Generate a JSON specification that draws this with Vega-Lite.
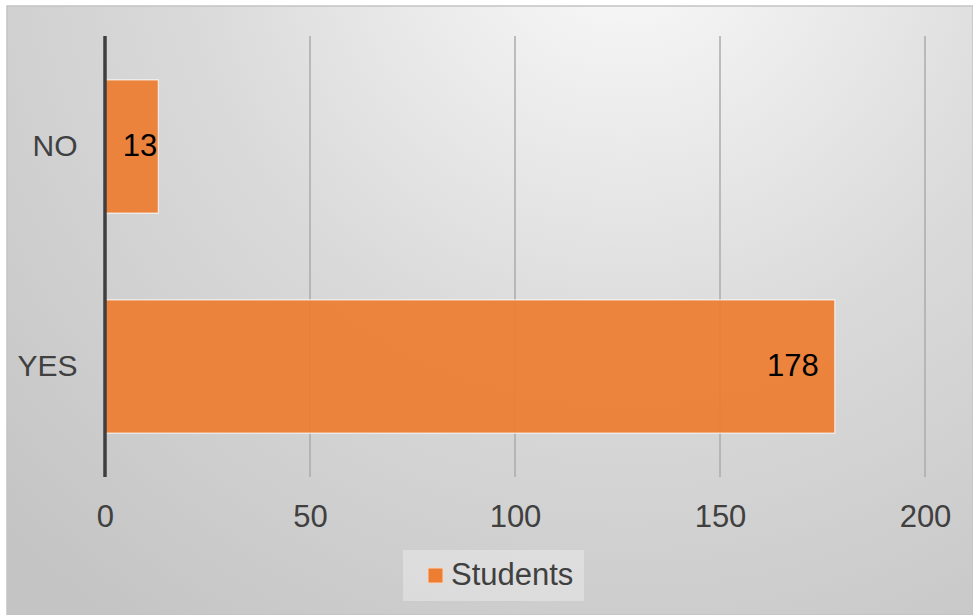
{
  "$schema": "https://vega.github.io/schema/vega-lite/v6.json",
  "width": 966,
  "height": 609,
  "autosize": {"type": "none"},
  "padding": {"left": 7, "top": 6, "right": 0, "bottom": 0},
  "background": "#ffffff",
  "config": {
    "font": "Liberation Sans",
    "view": {
      "stroke": "#c3c3c3",
      "strokeWidth": 1.5,
      "fill": {
        "gradient": "radial",
        "x1": 0.64, "y1": 0.1, "r1": 0,
        "x2": 0.64, "y2": 0.1, "r2": 0.9,
        "stops": [
          {"offset": 0, "color": "#fbfbfb"},
          {"offset": 0.5, "color": "#dadada"},
          {"offset": 1, "color": "#c4c4c4"}
        ]
      }
    }
  },
  "datasets": {
    "answers": [
      {"answer": "NO", "students": 13},
      {"answer": "YES", "students": 178}
    ],
    "ticks": [{"v": 0}, {"v": 50}, {"v": 100}, {"v": 150}, {"v": 200}]
  },
  "layer": [
    {
      "data": {"name": "ticks"},
      "transform": [{"filter": "datum.v > 0"}],
      "mark": {"type": "rule", "color": "#ababab", "strokeWidth": 1.5},
      "encoding": {
        "x": {
          "field": "v",
          "type": "quantitative",
          "scale": {"domain": [-23.902, 211.707], "nice": false, "zero": false},
          "axis": {
            "values": [0, 50, 100, 150, 200],
            "orient": "bottom",
            "offset": -138,
            "domain": false,
            "ticks": false,
            "grid": false,
            "labelFontSize": 31,
            "labelColor": "#404040",
            "labelPadding": 25,
            "labelFlush": false,
            "labelOverlap": false,
            "title": null
          }
        },
        "y": {
          "datum": 0,
          "type": "quantitative",
          "scale": {"domain": [-0.313, 1.068], "nice": false, "zero": false},
          "axis": null
        },
        "y2": {"datum": 1}
      }
    },
    {
      "data": {"name": "answers"},
      "layer": [
        {
          "mark": {
            "type": "bar",
            "fillOpacity": 0.93,
            "stroke": "#ffffff",
            "strokeWidth": 1.2,
            "strokeOpacity": 0.7
          },
          "encoding": {
            "y": {
              "field": "answer",
              "type": "nominal",
              "scale": {
                "domain": ["NO", "YES"],
                "paddingInner": 0.395,
                "paddingOuter": 0.5816,
                "align": 0.289
              },
              "axis": {
                "orient": "left",
                "offset": -98,
                "domain": false,
                "ticks": false,
                "grid": false,
                "labelFontSize": 30,
                "labelColor": "#404040",
                "labelPadding": 28,
                "title": null
              }
            },
            "x": {"field": "students", "type": "quantitative"},
            "color": {
              "datum": "Students",
              "type": "nominal",
              "scale": {"range": ["#ED7D31"]},
              "legend": {
                "title": null,
                "orient": "none",
                "legendX": 396,
                "legendY": 544,
                "padding": 10,
                "fillColor": "rgba(255,255,255,0.3)",
                "symbolType": "square",
                "symbolSize": 225,
                "symbolOffset": 7,
                "symbolStrokeColor": "#f8d8c0",
                "symbolStrokeWidth": 1,
                "labelFontSize": 31,
                "labelColor": "#404040",
                "labelOffset": 0
              }
            }
          }
        },
        {
          "transform": [{"filter": "datum.answer == 'NO'"}],
          "mark": {"type": "text", "align": "right", "baseline": "middle", "dx": -1, "fontSize": 31, "color": "#000000"},
          "encoding": {
            "y": {"field": "answer", "type": "nominal"},
            "x": {"field": "students", "type": "quantitative"},
            "text": {"field": "students", "type": "quantitative"}
          }
        },
        {
          "transform": [{"filter": "datum.answer == 'YES'"}],
          "mark": {"type": "text", "align": "right", "baseline": "middle", "dx": -16, "fontSize": 31, "color": "#000000"},
          "encoding": {
            "y": {"field": "answer", "type": "nominal"},
            "x": {"field": "students", "type": "quantitative"},
            "text": {"field": "students", "type": "quantitative"}
          }
        }
      ]
    },
    {
      "data": {"name": "ticks"},
      "transform": [{"filter": "datum.v == 0"}],
      "mark": {"type": "rule", "color": "#3f3f3f", "strokeWidth": 3.5},
      "encoding": {
        "x": {"field": "v", "type": "quantitative"},
        "y": {
          "datum": 0,
          "type": "quantitative",
          "scale": {"domain": [-0.313, 1.068], "nice": false, "zero": false},
          "axis": null
        },
        "y2": {"datum": 1}
      }
    }
  ],
  "resolve": {"scale": {"y": "independent"}}
}
